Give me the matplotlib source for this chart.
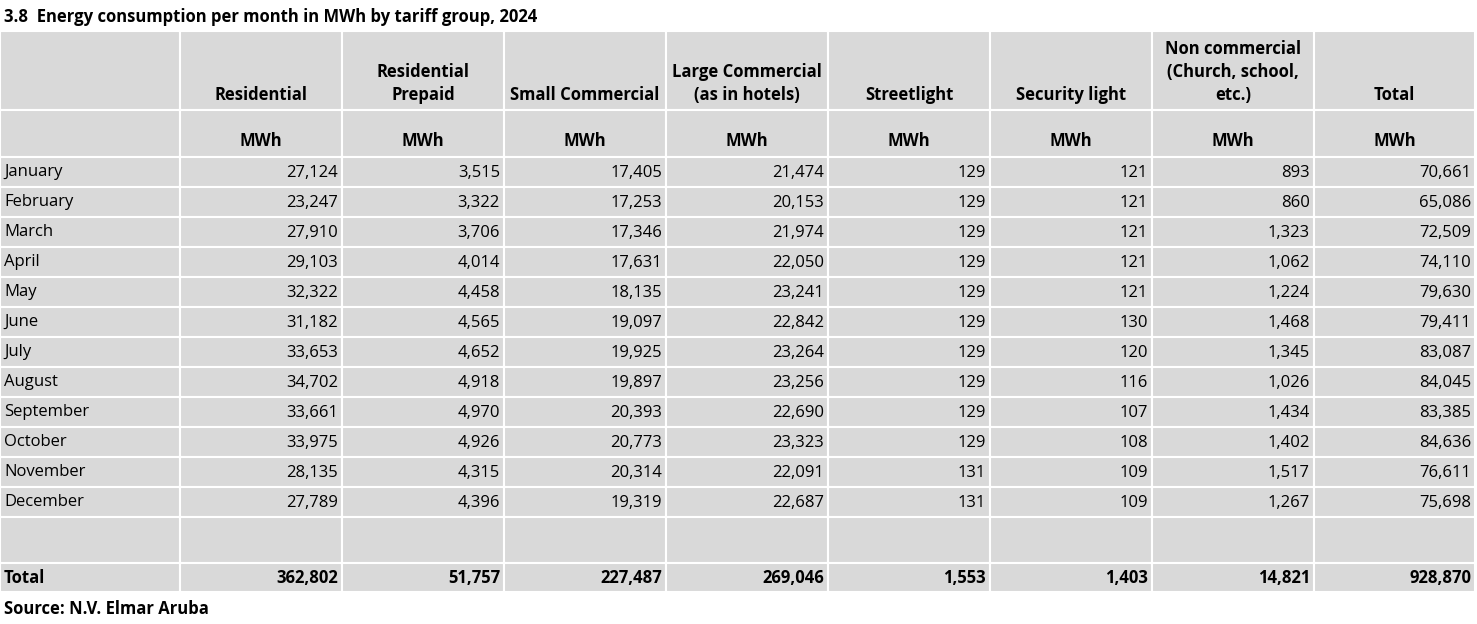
import matplotlib.pyplot as plt
from matplotlib.patches import Rectangle

title = "3.8  Energy consumption per month in MWh by tariff group, 2024"
source = "Source: N.V. Elmar Aruba"
headers = ["Residential", "Residential\nPrepaid", "Small Commercial", "Large Commercial\n(as in hotels)",
           "Streetlight", "Security light", "Non commercial\n(Church, school,\netc.)", "Total"]
months = ["January", "February", "March", "April", "May", "June", "July", "August",
          "September", "October", "November", "December"]
residential = [27124, 23247, 27910, 29103, 32322, 31182, 33653, 34702, 33661, 33975, 28135, 27789]
res_prepaid = [3515, 3322, 3706, 4014, 4458, 4565, 4652, 4918, 4970, 4926, 4315, 4396]
small_comm = [17405, 17253, 17346, 17631, 18135, 19097, 19925, 19897, 20393, 20773, 20314, 19319]
large_comm = [21474, 20153, 21974, 22050, 23241, 22842, 23264, 23256, 22690, 23323, 22091, 22687]
streetlight = [129, 129, 129, 129, 129, 129, 129, 129, 129, 129, 131, 131]
security = [121, 121, 121, 121, 121, 130, 120, 116, 107, 108, 109, 109]
non_comm = [893, 860, 1323, 1062, 1224, 1468, 1345, 1026, 1434, 1402, 1517, 1267]
total = [70661, 65086, 72509, 74110, 79630, 79411, 83087, 84045, 83385, 84636, 76611, 75698]
totals_row = [362802, 51757, 227487, 269046, 1553, 1403, 14821, 928870]

columns = [residential, res_prepaid, small_comm, large_comm, streetlight, security, non_comm, total]

plt.rcParams['font.family'] = ['Open Sans', 'DejaVu Sans']
W, H = 1477, 624
fig = plt.figure(figsize=(W / 100, H / 100), dpi=100)
ax = fig.add_axes([0, 0, 1, 1])
ax.set_xlim(0, W)
ax.set_ylim(H, 0)
ax.axis("off")

gray = "#D9D9D9"
xs = [0, 180, 342, 504, 666, 828, 990, 1152, 1314, 1475]
fs = 12

def cell(x0, x1, y0, y1):
    ax.add_patch(Rectangle((x0, y0), x1 - x0, y1 - y0, facecolor=gray, edgecolor="white", lw=1.5))

ax.text(4, 17, title, fontsize=fs, fontweight="bold", va="center")

# header rows
for i in range(9):
    cell(xs[i], xs[i + 1], 31, 110)
    cell(xs[i], xs[i + 1], 110, 157)
for i, h in enumerate(headers):
    cx = (xs[i + 1] + xs[i + 2]) / 2
    ax.text(cx, 104, h, fontsize=fs, fontweight="bold", ha="center", va="bottom", linespacing=1.35)
    ax.text(cx, 141, "MWh", fontsize=fs, fontweight="bold", ha="center", va="center")

# data rows
rh = 30
for r, m in enumerate(months):
    y0 = 157 + r * rh
    for i in range(9):
        cell(xs[i], xs[i + 1], y0, y0 + rh)
    ax.text(4, y0 + rh / 2, m, fontsize=fs, va="center")
    for i, col in enumerate(columns):
        ax.text(xs[i + 2] - 4, y0 + rh / 2 + 1, f"{col[r]:,}", fontsize=fs, ha="right", va="center")

# blank and total rows
for i in range(9):
    cell(xs[i], xs[i + 1], 517, 563)
    cell(xs[i], xs[i + 1], 563, 592)
ax.text(4, 578, "Total", fontsize=fs, fontweight="bold", va="center")
for i, v in enumerate(totals_row):
    ax.text(xs[i + 2] - 4, 578, f"{v:,}", fontsize=fs, fontweight="bold", ha="right", va="center")

ax.text(4, 609, source, fontsize=fs, fontweight="bold", va="center")

fig.savefig("out.png", dpi=100)
